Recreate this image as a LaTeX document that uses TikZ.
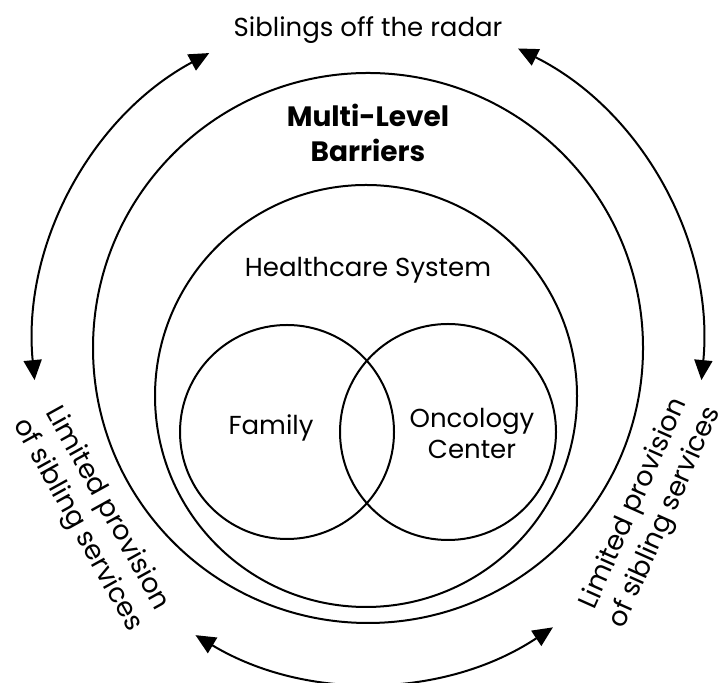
\documentclass[tikz,border=0pt]{standalone}
\usepackage{fontspec}
\setmainfont{Poppins}
\usetikzlibrary{arrows.meta}
\tikzstyle{ring}=[circle,draw,line width=1pt,inner sep=0pt]
\tikzstyle{label}=[align=center,inner sep=0pt,font=\fontsize{13}{15.5}\selectfont]
\tikzstyle{side label}=[align=center,inner sep=0pt,font=\fontsize{13.5}{17}\selectfont]
\tikzstyle{title}=[align=center,inner sep=0pt,font=\fontsize{14}{17.5}\selectfont\bfseries]
\tikzstyle{loop}=[line width=1pt,{Triangle[length=10pt,width=9pt]}-{Triangle[length=10pt,width=9pt]}]

\begin{document}
\begin{tikzpicture}[x=0.5pt,y=0.5pt]
    \useasboundingbox (0,0) rectangle (726,683);
    % circles
    \foreach \pos/\name/\size in {{(368,335)/barriers/275pt}, {(366,287)/healthcare/211pt},
                                  {(287,251)/family/107pt}, {(448,251)/oncology/108pt}}
        \node[ring,minimum size=\size] (\name) at \pos {};
    % labels
    \node[title] (barrierstext) at (368,550) {Multi-Level\\Barriers};
    \node[label] (healthtext) at (368,413) {Healthcare System};
    \node[label] (familytext) at (271,255) {Family};
    \node[label] (oncologytext) at (472,249) {Oncology\\Center};
    \node[label] (radar) at (368,653) {Siblings off the radar};
    \node[side label,rotate=-61] (leftprov) at (92,166) {Limited provision\\of sibling services};
    \node[side label,rotate=66] (rightprov) at (650,172) {Limited provision\\of sibling services};
    % arrows round the rings
    \draw[loop] (barriers.center) ++(185.5:335) arc[start angle=185.5,end angle=118.3,radius=335];
    \draw[loop] (barriers.center) ++(63.4:335) arc[start angle=63.4,end angle=-5.5,radius=335];
    \draw[loop] (barriers.center) ++(239:335) arc[start angle=239,end angle=303.5,radius=335];
\end{tikzpicture}
\end{document}
